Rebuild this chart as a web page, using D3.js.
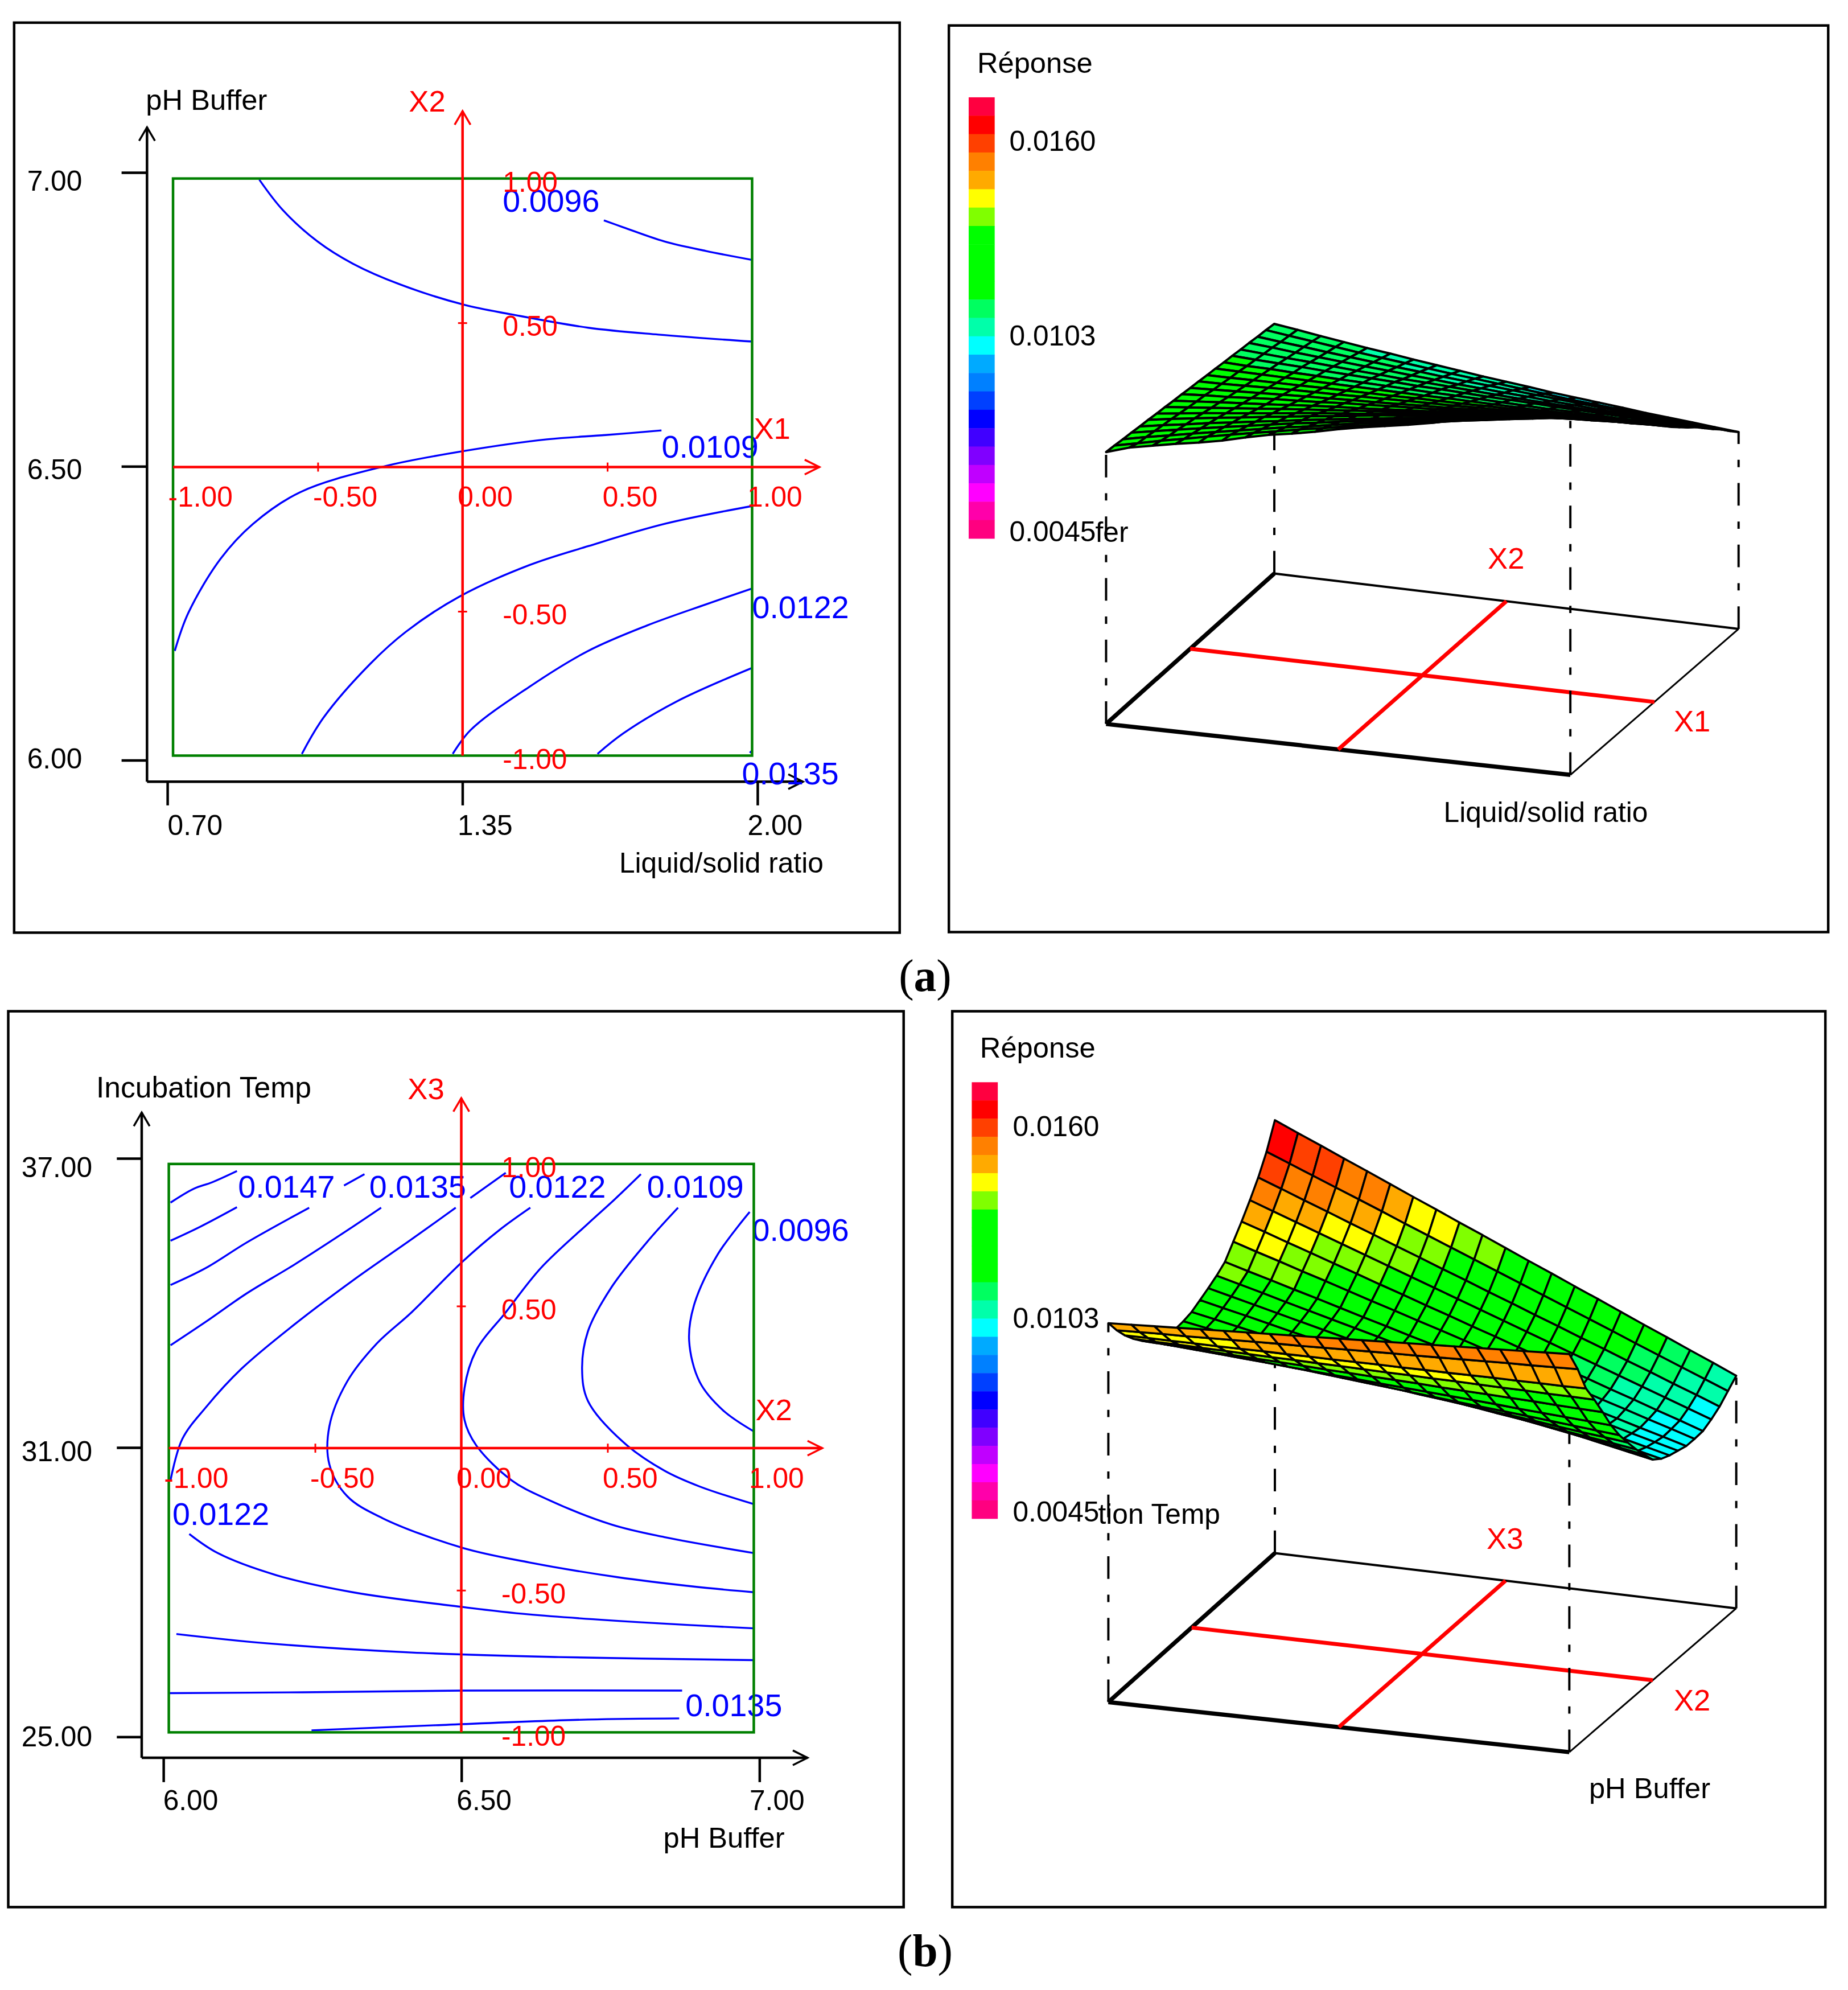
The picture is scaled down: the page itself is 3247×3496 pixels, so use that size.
<!DOCTYPE html>
<html><head><meta charset="utf-8">
<script src="https://cdn.jsdelivr.net/npm/d3@7"></script>
<style>html,body{margin:0;padding:0;background:#fff}svg{display:block}text{font-family:"Liberation Sans",Arial,sans-serif}</style>
</head><body><svg id="c" width="3247" height="3496" viewBox="0 0 3268 3518.5"></svg>
<script>
// ---------- data: contour lines in coded units [X, Y] ----------
const contoursA = [
 [[.488,.855],[.555,.831],[.697,.782],[.840,.749],[1,.718]],
 [[-.702,.996],[-.622,.892],[-.501,.782],[-.379,.705],[-.216,.633],[.007,.562],[.170,.529],[.434,.483],[.677,.459],[1,.435]],
 [[-.994,-.637],[-.947,-.505],[-.836,-.318],[-.724,-.197],[-.561,-.087],[-.277,.001],[.007,.056],[.291,.096],[.494,.111],[.687,.127]],
 [[-.555,-.994],[-.480,-.868],[-.318,-.681],[-.196,-.571],[-.013,-.450],[.230,-.340],[.434,-.274],[.697,-.197],[1,-.135]],
 [[-.034,-.994],[.027,-.912],[.230,-.762],[.434,-.637],[.637,-.549],[.840,-.476],[1,-.421]],
 [[.466,-.994],[.555,-.923],[.738,-.813],[1,-.696]],
 [[.992,-.990],[1,-.983]]
];
const contoursB = [
 [[-.994,.864],[-.914,.913],[-.853,.935],[-.767,.975]],
 [[-.994,.730],[-.893,.779],[-.767,.848]],
 [[-.994,.574],[-.873,.634],[-.733,.724],[-.520,.846]],
 [[-.401,.924],[-.331,.964]],
 [[-.994,.362],[-.873,.445],[-.733,.545],[-.572,.645],[-.371,.779],[-.274,.846]],
 [[-.994,-.113],[-.954,.032],[-.873,.144],[-.753,.278],[-.572,.434],[-.371,.590],[-.170,.735],[-.019,.846]],
 [[.031,.880],[.152,.969]],
 [[.236,.846],[.131,.768],[.005,.657],[-.170,.478],[-.290,.367],[-.391,.233],[-.451,.077],[-.451,-.057],[-.391,-.168],[-.270,-.246],[.005,-.351],[.232,-.402],[.534,-.454],[.795,-.487],[1,-.507]],
 [[.614,.964],[.524,.875],[.433,.790],[.272,.634],[.152,.478],[.051,.344],[.011,.211],[.011,.099],[.051,.010],[.172,-.113],[.292,-.179],[.514,-.269],[.694,-.313],[1,-.369]],
 [[.741,.846],[.634,.724],[.514,.567],[.433,.411],[.413,.278],[.433,.166],[.554,.021],[.694,-.079],[.815,-.135],[1,-.197]],
 [[.986,.831],[.875,.679],[.795,.501],[.779,.378],[.815,.233],[.895,.133],[1,.059]],
 [[-.930,-.302],[-.833,-.369],[-.632,-.447],[-.371,-.507],[.005,-.559],[.232,-.585],[.634,-.614],[1,-.634]],
 [[-.974,-.654],[-.672,-.686],[-.170,-.719],[.333,-.735],[1,-.746]],
 [[-1,-.862],[-.542,-.859],[.005,-.853],[.755,-.853]],
 [[-.512,-.993],[-.089,-.975],[.433,-.955],[.745,-.951]]
];
// ---------- data: response surfaces, response x 10^5, row = back to front, col = left to right ----------
const surfaceA = [
[1166,1156,1145,1135,1125,1116,1106,1097,1088,1079,1071,1063,1054,1047,1040,1033,1025,1019,1013,1006,1000],
[1170,1161,1152,1143,1134,1126,1118,1110,1102,1095,1088,1081,1074,1066,1060,1054,1048,1043,1036,1031,1026],
[1173,1165,1158,1150,1143,1136,1129,1123,1116,1110,1105,1099,1093,1088,1082,1077,1072,1067,1063,1058,1054],
[1177,1171,1164,1158,1152,1146,1141,1135,1130,1124,1120,1115,1111,1106,1102,1097,1093,1089,1085,1082,1078],
[1180,1175,1170,1166,1161,1156,1152,1147,1144,1140,1136,1132,1128,1125,1122,1118,1115,1112,1110,1107,1104],
[1184,1180,1177,1174,1170,1167,1164,1161,1157,1155,1152,1149,1147,1145,1142,1140,1138,1136,1133,1132,1130],
[1187,1184,1183,1180,1178,1176,1174,1172,1170,1168,1167,1165,1163,1161,1159,1159,1157,1155,1154,1153,1152],
[1191,1190,1189,1188,1187,1186,1185,1184,1183,1182,1182,1181,1180,1179,1178,1178,1178,1177,1176,1177,1176],
[1194,1194,1195,1195,1195,1196,1196,1196,1196,1197,1197,1197,1198,1198,1198,1198,1198,1199,1199,1200,1200],
[1198,1199,1201,1203,1205,1206,1207,1209,1210,1212,1213,1214,1216,1217,1219,1220,1221,1223,1223,1225,1226],
[1201,1204,1207,1210,1213,1216,1218,1221,1223,1226,1229,1231,1234,1236,1239,1241,1244,1245,1248,1249,1252],
[1205,1210,1213,1218,1223,1226,1230,1235,1238,1242,1246,1249,1253,1256,1259,1263,1266,1269,1272,1275,1278],
[1208,1214,1220,1225,1230,1236,1242,1247,1251,1256,1261,1266,1271,1275,1280,1284,1288,1293,1296,1300,1304],
[1212,1219,1226,1233,1240,1247,1254,1260,1267,1273,1279,1285,1291,1296,1302,1307,1312,1317,1322,1327,1332],
[1215,1224,1233,1241,1249,1257,1266,1274,1281,1288,1296,1303,1310,1317,1324,1330,1336,1342,1348,1355,1360],
[1219,1230,1240,1250,1259,1269,1278,1288,1296,1306,1315,1323,1331,1339,1347,1354,1362,1369,1377,1383,1390],
[1222,1234,1245,1257,1267,1278,1288,1299,1309,1319,1328,1338,1347,1356,1364,1373,1381,1390,1397,1405,1412],
[1226,1239,1252,1264,1276,1288,1300,1312,1322,1334,1344,1355,1364,1375,1384,1393,1402,1411,1420,1428,1436],
[1229,1244,1257,1271,1284,1297,1310,1323,1334,1347,1359,1370,1381,1392,1403,1412,1423,1432,1442,1451,1460],
[1233,1248,1264,1278,1293,1307,1321,1334,1348,1360,1374,1385,1397,1409,1420,1432,1442,1453,1463,1473,1482],
[1236,1258,1272,1286,1298,1312,1330,1346,1358,1372,1388,1402,1414,1426,1440,1456,1470,1482,1490,1498,1506]
];
const surfaceB = [
[1746,1714,1683,1651,1620,1588,1556,1525,1493,1462,1430,1398,1367,1335,1304,1272,1240,1209,1177,1146,1114],
[1670,1641,1612,1583,1554,1525,1495,1466,1437,1408,1379,1350,1321,1292,1263,1234,1204,1175,1146,1117,1088],
[1612,1585,1557,1530,1502,1475,1447,1420,1392,1365,1337,1310,1282,1255,1227,1200,1172,1145,1117,1090,1062],
[1564,1538,1512,1486,1460,1434,1408,1382,1356,1330,1304,1278,1252,1226,1200,1174,1148,1122,1096,1070,1044],
[1520,1496,1471,1447,1422,1398,1373,1349,1324,1300,1275,1251,1226,1202,1177,1153,1128,1104,1079,1055,1030],
[1480,1457,1435,1412,1390,1367,1344,1322,1299,1277,1254,1231,1209,1186,1164,1141,1118,1096,1073,1051,1028],
[1440,1419,1399,1378,1358,1337,1316,1296,1275,1255,1234,1213,1193,1172,1152,1131,1110,1090,1069,1049,1028],
[1420,1401,1382,1362,1343,1324,1305,1286,1266,1247,1228,1209,1190,1170,1151,1132,1113,1094,1074,1055,1036],
[1404,1386,1368,1350,1332,1314,1296,1278,1260,1242,1224,1206,1188,1170,1152,1134,1116,1098,1080,1062,1044],
[1390,1373,1357,1340,1323,1307,1290,1273,1256,1240,1223,1206,1190,1173,1156,1140,1123,1106,1089,1073,1056],
[1376,1361,1346,1331,1316,1301,1286,1271,1256,1241,1226,1211,1196,1181,1166,1151,1136,1121,1106,1091,1076],
[1370,1357,1344,1332,1319,1306,1293,1280,1268,1255,1242,1229,1216,1204,1191,1178,1165,1152,1140,1127,1114],
[1368,1357,1347,1336,1325,1315,1304,1293,1282,1272,1261,1250,1240,1229,1218,1208,1197,1186,1175,1165,1154],
[1372,1363,1355,1346,1337,1329,1320,1311,1302,1294,1285,1276,1268,1259,1250,1242,1233,1224,1215,1207,1198],
[1382,1375,1368,1361,1354,1348,1341,1334,1327,1320,1313,1306,1299,1292,1285,1279,1272,1265,1258,1251,1244],
[1400,1395,1390,1385,1380,1375,1369,1364,1359,1354,1349,1344,1339,1334,1329,1324,1318,1313,1308,1303,1298],
[1426,1423,1420,1416,1413,1410,1407,1404,1400,1397,1394,1391,1388,1384,1381,1378,1375,1372,1368,1365,1362],
[1456,1454,1453,1451,1450,1448,1446,1445,1443,1442,1440,1438,1437,1435,1434,1432,1430,1429,1427,1426,1424],
[1490,1490,1489,1489,1488,1488,1488,1487,1487,1486,1486,1486,1485,1485,1484,1484,1484,1483,1483,1482,1482],
[1530,1532,1534,1535,1537,1539,1541,1543,1544,1546,1548,1550,1552,1553,1555,1557,1559,1561,1562,1564,1566],
[1576,1579,1582,1585,1588,1591,1594,1597,1600,1603,1606,1609,1612,1615,1618,1621,1624,1627,1630,1633,1636]
];
// ---------- data: legend and tick labels ----------
const legendColors = ["#ff0040","#ff0000","#ff4000","#ff8000","#ffaa00","#ffff00","#80ff00","#00ff00","#00ff00","#00ff00","#00ff00","#00ff60","#00ffaa","#00ffff","#00aaff","#0080ff","#0040ff","#0000ff","#4000ff","#8000ff","#c000ff","#ff00ff","#ff00aa","#ff0080"];
const legendLabels = ["0.0160","0.0103","0.0045"];
const codedTicks = [-1,-0.5,0,0.5,1];
const ratioTicks = [0.70,1.35,2.00];
const phTicks = [6.00,6.50,7.00];
const tempTicks = [25.00,31.00,37.00];

// ---------- drawing ----------
const svg = d3.select("#c");
const BLUE=56, NUM=50, LET=50;
const fmt = d=>d3.format(".2f")(d).replace("\u2212","-");
function text(g,x,y,s,color,size){ return g.append("text").attr("x",x).attr("y",y).attr("fill",color||"#000").attr("font-size",size||NUM).text(s); }
function frame(x0,y0,x1,y1){ svg.append("rect").attr("x",x0).attr("y",y0).attr("width",x1-x0).attr("height",y1-y0).attr("fill","#fff").attr("stroke","#000").attr("stroke-width",4.5); }
function arrow(g,x,y,dir,color,sw){
  const p = dir==="up" ? [[x-14,y+24],[x,y],[x+14,y+24]] : [[x-26,y-13],[x,y],[x-26,y+13]];
  g.append("path").attr("d",d3.line()(p)).attr("fill","none").attr("stroke",color).attr("stroke-width",sw);
}
function contourPanel(o){
  const g = svg.append("g");
  const sx = d3.scaleLinear().domain([-1,1]).range(o.green.slice(0,2));
  const sy = d3.scaleLinear().domain([-1,1]).range(o.green.slice(2,4));
  const line = d3.line().x(d=>sx(d[0])).y(d=>sy(d[1])).curve(d3.curveCatmullRom.alpha(.5));
  const bx = d3.scaleLinear().domain(d3.extent(o.xTicks)).range(o.xRange);
  const by = d3.scaleLinear().domain(d3.extent(o.yTicks)).range(o.yRange);
  const ax = g.append("g").attr("transform",`translate(0,${o.ax.y})`).call(d3.axisBottom(bx).tickValues(o.xTicks).tickFormat(fmt).tickSize(o.ax.tx).tickSizeOuter(0));
  const ay = g.append("g").attr("transform",`translate(${o.ax.x},0)`).call(d3.axisLeft(by).tickValues(o.yTicks).tickFormat(fmt).tickSize(o.ax.ty).tickSizeOuter(0));
  [ax,ay].forEach(a=>{a.select(".domain").remove();a.selectAll("line").attr("stroke","#000").attr("stroke-width",4.5);a.selectAll("text").attr("fill","#000").attr("font-size",NUM).attr("font-family",'"Liberation Sans"');});
  ax.selectAll("text").attr("text-anchor","start").attr("x",(d,i)=>o.ax.xDx[i]).attr("dy",null).attr("y",o.ax.xLab);
  ay.selectAll("text").attr("text-anchor","start").attr("x",o.ax.yLabX-o.ax.x).attr("dy",null).attr("y",(d,i)=>o.ax.yDy[i]);
  g.append("line").attr("x1",o.ax.x).attr("x2",o.ax.x).attr("y1",o.ax.top).attr("y2",o.ax.y).attr("stroke","#000").attr("stroke-width",4.5);
  g.append("line").attr("x1",o.ax.x).attr("x2",o.ax.right).attr("y1",o.ax.y).attr("y2",o.ax.y).attr("stroke","#000").attr("stroke-width",4.5);
  arrow(g,o.ax.x,o.ax.top,"up","#000",3.5); arrow(g,o.ax.right,o.ax.y,"right","#000",3.5);
  g.selectAll(null).data(o.contours).join("path").attr("d",line).attr("fill","none").attr("stroke","#0000ff").attr("stroke-width",3.4);
  o.blue.forEach(b=>text(g,b[0],b[1],b[2],"#0000ff",BLUE));
  g.append("rect").attr("x",sx(-1)).attr("y",sy(1)).attr("width",sx(1)-sx(-1)).attr("height",sy(-1)-sy(1)).attr("fill","none").attr("stroke","#008000").attr("stroke-width",4.5);
  const rx = sx(0), ry = sy(0), red="#ff0000";
  const rh = g.append("g").attr("transform",`translate(0,${ry})`).call(d3.axisBottom(sx).tickValues(codedTicks).tickFormat(fmt).tickSizeOuter(0));
  const rv = g.append("g").attr("transform",`translate(${rx},0)`).call(d3.axisRight(sy).tickValues(codedTicks).tickFormat(fmt).tickSizeOuter(0));
  [rh,rv].forEach(a=>{a.select(".domain").remove();a.selectAll("text").attr("fill",red).attr("font-size",NUM).attr("font-family",'"Liberation Sans"').attr("text-anchor","start").attr("dy",null);a.selectAll("line").attr("stroke",red).attr("stroke-width",3);});
  rh.selectAll("line").attr("y1",-8).attr("y2",8).attr("display",d=>Math.abs(d)===.5?null:"none");
  rv.selectAll("line").attr("x1",-8).attr("x2",8).attr("display",d=>Math.abs(d)===.5?null:"none");
  rh.selectAll("text").attr("x",-9).attr("y",70);
  rv.selectAll("text").attr("x",71).attr("y",23).attr("display",d=>d===0?"none":null);
  g.append("line").attr("x1",rx).attr("x2",rx).attr("y1",o.red.top).attr("y2",sy(-1)).attr("stroke",red).attr("stroke-width",4.5);
  g.append("line").attr("x1",sx(-1)).attr("x2",o.red.right).attr("y1",ry).attr("y2",ry).attr("stroke",red).attr("stroke-width",4.5);
  arrow(g,rx,o.red.top,"up",red,3.5); arrow(g,o.red.right,ry,"right",red,3.5);
  o.labels.forEach(l=>text(g,l[0],l[1],l[2],l[3]||"#000",l[4]||LET));
}
function surfacePanel(o){
  const g = svg.append("g");
  const [A,B,C,D] = o.corners;
  const n = o.table.length-1;
  const sj = d3.scaleLinear().domain([0,n]).range([0,1]);
  const sk = d3.scaleLinear().domain([0,n]).range([1,0]);
  const zp = d3.scaleLinear().domain([380,1746]).range([0,683*o.zk]);
  const color = d3.scaleQuantize().domain([461,1791]).range(legendColors.slice().reverse());
  const floor = (u,w)=>{ const a=[A[0]+(D[0]-A[0])*u,A[1]+(D[1]-A[1])*u], b=[B[0]+(C[0]-B[0])*u,B[1]+(C[1]-B[1])*u]; return [a[0]+(b[0]-a[0])*w,a[1]+(b[1]-a[1])*w]; };
  const P = (j,k)=>{ const f=floor(sj(j),sk(k)); return [f[0],f[1]-zp(o.table[k][j])]; };
  const ly = d3.scaleBand().domain(d3.range(legendColors.length)).range(o.legend.y);
  g.selectAll(null).data(legendColors).join("rect").attr("x",o.legend.x).attr("width",46).attr("y",(d,i)=>ly(i)).attr("height",ly.bandwidth()+.5).attr("fill",d=>d);
  legendLabels.forEach((s,i)=>text(g,o.legend.tx,o.legend.ty[i],s,"#000"));
  const seg=(a,b,c,w,dash)=>g.append("line").attr("x1",a[0]).attr("y1",a[1]).attr("x2",b[0]).attr("y2",b[1]).attr("stroke",c).attr("stroke-width",w).attr("stroke-dasharray",dash||null);
  seg(B,C,"#000",4); seg(C,D,"#000",3);
  seg(A,D,"#000",7.5); seg(A,B,"#000",7.5);
  seg(floor(0,.5),floor(1,.5),"#ff0000",7); seg(floor(.5,0),floor(.5,1),"#ff0000",7);
  [[0,n],[0,0],[n,0],[n,n]].forEach(([j,k])=>seg(floor(sj(j),sk(k)),P(j,k),"#000",4,"40 28 13 28"));
  const cells=[];
  for(let k=0;k<n;k++) for(let j=0;j<n;j++) cells.push({j,k,v:(o.table[k][j]+o.table[k][j+1]+o.table[k+1][j]+o.table[k+1][j+1])/4});
  g.selectAll(null).data(cells).join("path")
    .attr("d",c=>d3.line()([P(c.j,c.k),P(c.j+1,c.k),P(c.j+1,c.k+1),P(c.j,c.k+1)])+"Z")
    .attr("fill",c=>color(c.v)).attr("stroke","#000").attr("stroke-width",o.sw).attr("stroke-linejoin","round");
  o.labels.forEach(l=>text(g,l[0],l[1],l[2],l[3]||"#000",l[4]||LET));
}
frame(25,40,1591,1649); frame(1678,45,3233,1648); frame(14.6,1788,1598,3372); frame(1684,1788,3228,3372);

contourPanel({green:[306,1330,1336,315.6],contours:contoursA,xTicks:ratioTicks,yTicks:phTicks,xRange:[296,1339.5],yRange:[1344,305],
  ax:{x:260,y:1382,top:225,right:1420,tx:42,ty:45,xLab:94,xDx:[0,-9,-18],yLabX:48,yDy:[14,22,32]},red:{top:196.5,right:1449},
  blue:[[889,374,"0.0096"],[1170,809,"0.0109"],[1330,1093,"0.0122"],[1312,1387,"0.0135"]],
  labels:[[258,194,"pH Buffer",null,51],[723,197,"X2","#ff0000",53],[1333,776,"X1","#ff0000",53],[1095,1543,"Liquid/solid ratio"]]});
contourPanel({green:[298.5,1333,3063,2058],contours:contoursB,xTicks:phTicks,yTicks:tempTicks,xRange:[289,1343],yRange:[3071,2048],
  ax:{x:250.6,y:3108,top:1967,right:1428,tx:43,ty:44,xLab:93,xDx:[-1,-9,-18],yLabX:38,yDy:[16,24,33]},red:{top:1941.5,right:1454},
  blue:[[421,2118,"0.0147"],[653,2118,"0.0135"],[900,2118,"0.0122"],[1144,2118,"0.0109"],[1330,2194,"0.0096"],[305,2696,"0.0122"],[1212,3034,"0.0135"]],
  labels:[[170,1940,"Incubation Temp",null,52],[721,1943,"X3","#ff0000",53],[1336,2511,"X2","#ff0000",53],[1173,3267,"pH Buffer",null,51]]});
surfacePanel({table:surfaceA,sw:4,corners:[[1956,1280],[2253.5,1014],[3074.5,1112],[2777,1370]],zk:1.1232,
  legend:{x:1713,y:[172,952],tx:1785,ty:[267,611,957]},
  labels:[[1728,129,"Réponse",null,51],[1937,958,"fer"],[2631,1005,"X2","#ff0000",53],[2960,1293,"X1","#ff0000",53],[2553,1453,"Liquid/solid ratio"]]});
surfacePanel({table:surfaceB,sw:3.6,corners:[[1960,3009.6],[2254.5,2746],[3070.4,2843.7],[2775.2,3098]],zk:1.1207,
  legend:{x:1718.5,y:[1913.5,2685],tx:1791,ty:[2009,2348,2690]},
  labels:[[1733,1870,"Réponse",null,51],[1942,2694,"tion Temp"],[2629,2739,"X3","#ff0000",53],[2960,3024,"X2","#ff0000",53],[2810,3179,"pH Buffer",null,51]]});

[["a",1752],["b",3476]].forEach(([s,y])=>{
  const t=svg.append("text").attr("x",1636).attr("y",y).attr("text-anchor","middle").attr("font-size",80).style("font-family",'"Liberation Serif",serif');
  t.append("tspan").text("("); t.append("tspan").attr("font-weight","bold").text(s); t.append("tspan").text(")");
});
</script></body></html>
